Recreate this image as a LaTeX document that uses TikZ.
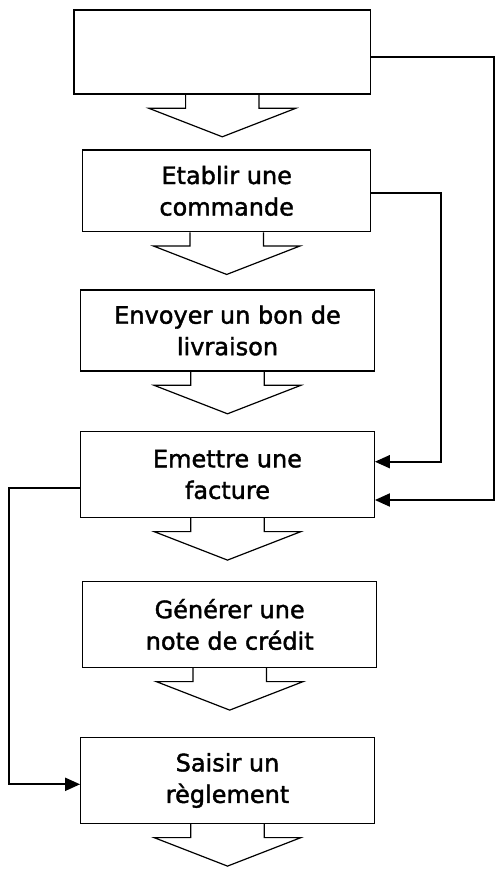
\documentclass[tikz,border=0pt]{standalone}
\usepackage{fontspec}
\setmainfont{DejaVu Sans}[BoldFont=DejaVu Sans, BoldFeatures={FakeBold=1.6}]
\usetikzlibrary{arrows.meta}
\tikzset{
  procbox/.style={draw, line width=1.2pt, inner sep=0pt, align=center,
    minimum width=293.6pt, minimum height=85.6pt,
    font=\fontsize{24}{31.5}\selectfont\bfseries},
  flowshape/.style={draw, line width=1.2pt, line join=miter},
  conn/.style={draw, line width=1.9pt},
  connarrow/.style={conn, -{Triangle[length=15pt,width=13pt]}}
}
\newcommand{\blockarr}[1]{%
  \draw[flowshape] ([xshift=-36.7pt]#1.south) -- ++(0pt,-13.7pt) -- ++(-36.7pt,0pt)
    -- ++(73.4pt,-28.5pt) -- ++(73.4pt,28.5pt) -- ++(-36.7pt,0pt) -- ++(0pt,13.7pt);}
\begin{document}
\begin{tikzpicture}[x=1pt,y=-1pt]
\useasboundingbox (0,0) rectangle (501,873);
% boxes
\node[procbox, minimum width=296.7pt, minimum height=84pt] (b1) at (222.3,52) {};
\node[procbox, minimum width=288pt, minimum height=81.7pt] (b2) at (226.7,190.8) {Etablir une\\commande};
\node[procbox, minimum height=81pt] (b3) at (227.5,330.5) {Envoyer un bon de\\livraison};
\node[procbox] (b4) at (227.5,474.5) {Emettre une\\facture};
\node[procbox, minimum width=294pt] (b5) at (229.7,624.5) {Générer une\\note de crédit};
\node[procbox] (b6) at (227.5,780.5) {Saisir un\\règlement};
% block arrows
\blockarr{b1}
\blockarr{b2}
\blockarr{b3}
\blockarr{b4}
\blockarr{b5}
\blockarr{b6}
% connectors
\coordinate (k1) at (494,56.7);
\coordinate (k2) at (441,193.3);
\coordinate (k3) at (9,488.3);
\draw[connarrow] (b1.east |- k1) -- (k1) |- ([yshift=-25.5pt]b4.east);
\draw[connarrow] (b2.east |- k2) -- (k2) |- ([yshift=12.8pt]b4.east);
\draw[connarrow] (b4.west |- k3) -- (k3) |- ([yshift=-3.8pt]b6.west);
\end{tikzpicture}
\end{document}
